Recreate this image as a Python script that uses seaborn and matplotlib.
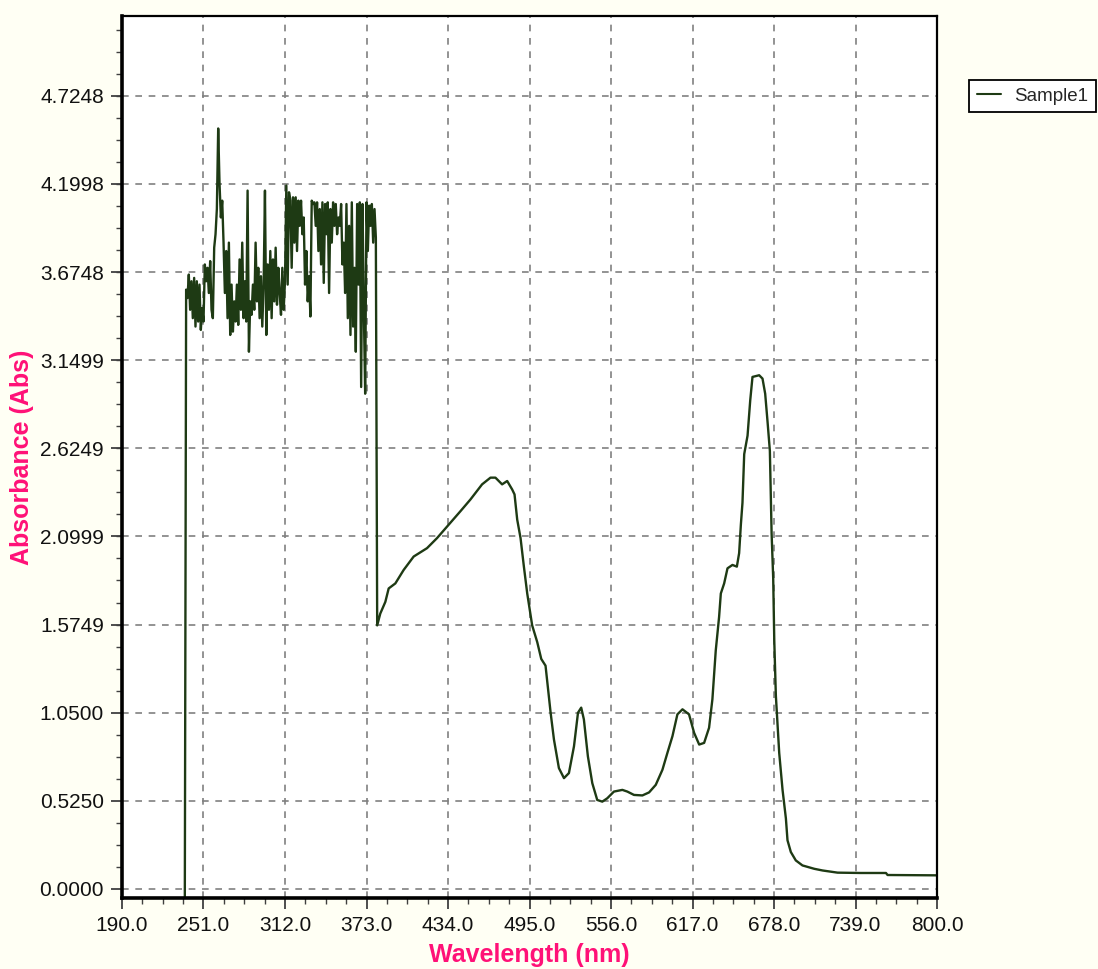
import numpy as np
import pandas as pd
import matplotlib
matplotlib.use("Agg")
import matplotlib.pyplot as plt
import seaborn as sns
from matplotlib.ticker import FixedLocator, AutoMinorLocator

# ---- data ----
# start of the scan (below the visible range)
start_nm = [237.0]
start_abs = [-0.10]

# noisy saturated UV region, 1 nm steps 238..380
noisy_nm = list(range(238, 381))
noisy_abs = [
    3.57, 3.52, 3.66, 3.45, 3.62, 3.40, 3.64, 3.35, 3.62, 3.38,
    3.60, 3.33, 3.46, 3.38, 3.72, 3.62, 3.70, 3.55, 3.74, 3.45,
    3.40, 3.82, 3.90, 4.05, 4.53, 4.20, 4.00, 4.10, 3.85, 3.55,
    3.80, 3.40, 3.85, 3.30, 3.60, 3.32, 3.50, 3.38, 3.60, 3.36,
    3.75, 3.45, 3.85, 3.40, 3.62, 3.38, 4.16, 3.20, 3.50, 3.42,
    3.60, 3.45, 3.85, 3.50, 3.70, 3.40, 3.65, 3.35, 3.60, 4.16,
    3.30, 3.72, 3.45, 3.80, 3.40, 3.75, 3.50, 3.82, 3.48, 3.70,
    3.55,
    3.42, 3.70, 3.45, 3.62, 4.19, 3.60, 4.15, 4.10, 3.70, 4.12,
    3.85, 4.12, 3.80, 4.10, 3.95, 4.10, 3.90, 4.00, 3.60, 3.80,
    3.50, 3.65, 3.41, 4.10, 4.08, 4.09, 3.95, 4.09, 3.80, 4.05,
    3.72, 4.09, 3.61, 4.08, 3.90, 4.09, 3.55, 4.05, 3.85, 4.09,
    3.95, 4.08, 3.90, 4.00, 3.95, 4.08, 3.72, 3.85, 3.55, 4.08,
    3.40, 3.95, 3.30, 4.09, 3.35, 3.70, 3.20, 4.08, 3.60, 4.09,
    2.99, 4.08, 3.45, 2.95, 4.09, 3.80, 4.07, 3.95, 4.08, 3.85,
    4.05, 3.88,
]

# smooth visible region
smooth_nm = [
    381.0, 383.3, 387.1, 389.6, 394.6, 400.8, 408.3, 418.3, 425.8, 434.6,
    443.3, 450.8, 459.5, 465.8, 469.5, 474.5, 478.3, 482.0, 483.8, 485.8,
    488.3, 490.8, 493.3, 497.0, 500.8, 503.8, 507.0, 510.8, 513.3, 517.0,
    520.8, 524.5, 528.3, 531.3, 533.7, 535.7, 538.7, 542.0, 545.7, 549.5,
    553.2, 558.2, 564.5, 568.2, 573.2, 579.5, 584.5, 589.5, 594.5, 598.2,
    602.0, 605.7, 609.5, 614.4, 618.2, 622.0, 625.7, 629.4, 631.9, 634.4,
    636.9, 638.2, 640.7, 643.2, 646.9, 650.2, 651.9, 653.2, 654.4, 655.7,
    658.2, 660.2, 661.9, 666.9, 669.4, 671.4, 673.2, 674.9, 676.2, 677.4,
    678.2, 679.4, 681.9, 684.4, 686.9, 688.1, 690.6, 694.3, 699.3, 708.1,
    714.3, 725.6, 743.0, 761.8, 763.0, 800.0,
]
smooth_abs = [
    1.57, 1.64, 1.71, 1.79, 1.82, 1.90, 1.98, 2.03, 2.09, 2.17,
    2.25, 2.32, 2.41, 2.45, 2.45, 2.41, 2.43, 2.38, 2.35, 2.20,
    2.09, 1.92, 1.76, 1.57, 1.47, 1.37, 1.33, 1.05, 0.89, 0.72,
    0.66, 0.69, 0.85, 1.05, 1.08, 1.01, 0.79, 0.63, 0.53, 0.52,
    0.54, 0.58, 0.59, 0.58, 0.56, 0.557, 0.575, 0.62, 0.71, 0.81,
    0.91, 1.04, 1.07, 1.04, 0.93, 0.86, 0.87, 0.96, 1.13, 1.42,
    1.62, 1.76, 1.82, 1.91, 1.93, 1.92, 2.00, 2.17, 2.30, 2.59,
    2.70, 2.91, 3.05, 3.06, 3.04, 2.95, 2.78, 2.61, 2.12, 1.85,
    1.48, 1.15, 0.81, 0.59, 0.42, 0.29, 0.22, 0.17, 0.14, 0.12,
    0.11, 0.097, 0.095, 0.095, 0.083, 0.081,
]

x_ticks = [190.0, 251.0, 312.0, 373.0, 434.0, 495.0, 556.0, 617.0, 678.0, 739.0, 800.0]
y_ticks = [0.0, 0.525, 1.05, 1.5749, 2.0999, 2.6249, 3.1499, 3.6748, 4.1998, 4.7248]

df = pd.DataFrame({
    "wavelength": start_nm + noisy_nm + smooth_nm,
    "absorbance": start_abs + noisy_abs + smooth_abs,
})

# ---- styling ----
bg = "#FFFFF4"
line_color = "#1E3A14"
pink = "#FF1177"

sns.set_theme(style="white")
plt.rcParams["font.family"] = ["Liberation Sans", "DejaVu Sans"]

fig = plt.figure(figsize=(10.98, 9.69), dpi=100, facecolor=bg)
ax = fig.add_axes([122 / 1098, 1 - 898 / 969, (937 - 122) / 1098, (898 - 16) / 969])
ax.set_facecolor("white")

sns.lineplot(data=df, x="wavelength", y="absorbance", ax=ax, color=line_color,
             linewidth=1.7, label="Sample1", estimator=None, sort=False)

ax.set_xlim(190, 800)
ax.set_ylim(-0.054, 5.2)

ax.xaxis.set_major_locator(FixedLocator(x_ticks))
ax.set_xticklabels([f"{v:.1f}" for v in x_ticks])
ax.yaxis.set_major_locator(FixedLocator(y_ticks))
ax.set_yticklabels([f"{v:.4f}" for v in y_ticks])
ax.xaxis.set_minor_locator(AutoMinorLocator(4))
ax.yaxis.set_minor_locator(AutoMinorLocator(4))

ax.tick_params(which="both", bottom=True, left=True, direction="out",
               color="#404040", labelsize=15, labelcolor="#111111")
ax.tick_params(which="major", length=8, width=1.3, pad=5)
ax.tick_params(which="minor", length=4, width=1.0)

ax.grid(True, which="major", color="#808080", linestyle=(0, (4, 4)), linewidth=1.2)
ax.set_axisbelow(True)

for side in ["left", "bottom"]:
    ax.spines[side].set_linewidth(2.6)
    ax.spines[side].set_color("black")
for side in ["top", "right"]:
    ax.spines[side].set_linewidth(1.6)
    ax.spines[side].set_color("black")

ax.set_xlabel("Wavelength (nm)", color=pink, fontsize=18, fontweight="bold", labelpad=6)
ax.set_ylabel("Absorbance (Abs)", color=pink, fontsize=18, fontweight="bold", labelpad=4)

leg = ax.legend(loc="upper left", bbox_to_anchor=(969 / 1098, 1 - 80 / 969),
                bbox_transform=fig.transFigure, frameon=True, fancybox=False,
                edgecolor="black", framealpha=1, fontsize=13.5, handlelength=1.3,
                borderpad=0.4, handletextpad=0.7, borderaxespad=0)
leg.get_frame().set_linewidth(1.3)
for h in leg.get_lines():
    h.set_linewidth(1.5)

fig.savefig("out.png", dpi=100, facecolor=bg)
